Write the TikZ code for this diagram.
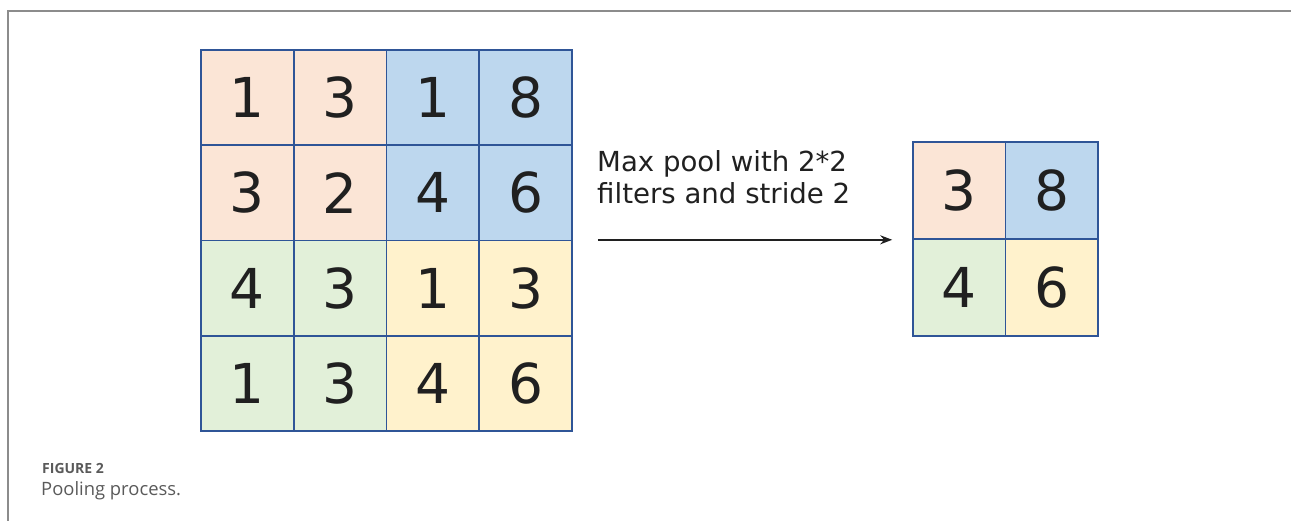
\documentclass[tikz,border=0pt]{standalone}
\usepackage{fontspec}
\setmainfont{DejaVu Sans}
\newfontfamily\capfont{Open Sans}
\usetikzlibrary{arrows.meta}

\definecolor{peach}{HTML}{FBE5D6}
\definecolor{skyblue}{HTML}{BDD7EE}
\definecolor{palegreen}{HTML}{E2F0D9}
\definecolor{paleyellow}{HTML}{FFF2CC}
\definecolor{gridblue}{HTML}{2F5597}
\definecolor{framegray}{HTML}{8C8C8C}
\definecolor{capgray}{HTML}{5A5A5A}
\definecolor{inkgray}{HTML}{202020}

\tikzset{
  cell/.style={draw=gridblue, line width=1.6pt, inner sep=0pt,
    minimum width=92.75pt, minimum height=95.25pt, text=inkgray,
    font=\fontsize{55}{57}\selectfont},
  smallcell/.style={cell, minimum width=92.5pt, minimum height=97pt}
}

\begin{document}
\begin{tikzpicture}[x=1pt, y=-1pt]

  \useasboundingbox (0,0) rectangle (1291,521);

  % Frame
  \draw[framegray, line width=1.6pt] (8,521) -- (8,11) -- (1291,11);

  % Input map, top left block
  \node[cell, fill=peach] (a11) at (247.4,97.6) {1};
  \node[cell, fill=peach] (a12) at (340.1,97.6) {3};
  \node[cell, fill=peach] (a21) at (247.4,192.9) {3};
  \node[cell, fill=peach] (a22) at (340.1,192.9) {2};

  % Input map, top right block
  \node[cell, fill=skyblue] (a13) at (432.9,97.6) {1};
  \node[cell, fill=skyblue] (a14) at (525.6,97.6) {8};
  \node[cell, fill=skyblue] (a23) at (432.9,192.9) {4};
  \node[cell, fill=skyblue] (a24) at (525.6,192.9) {6};

  % Input map, bottom left block
  \node[cell, fill=palegreen] (a31) at (247.4,288.1) {4};
  \node[cell, fill=palegreen] (a32) at (340.1,288.1) {3};
  \node[cell, fill=palegreen] (a41) at (247.4,383.4) {1};
  \node[cell, fill=palegreen] (a42) at (340.1,383.4) {3};

  % Input map, bottom right block
  \node[cell, fill=paleyellow] (a33) at (432.9,288.1) {1};
  \node[cell, fill=paleyellow] (a34) at (525.6,288.1) {3};
  \node[cell, fill=paleyellow] (a43) at (432.9,383.4) {4};
  \node[cell, fill=paleyellow] (a44) at (525.6,383.4) {6};

  % Pooled map
  \node[smallcell, fill=peach] (b11) at (959.3,190.5) {3};
  \node[smallcell, fill=skyblue] (b12) at (1051.8,190.5) {8};
  \node[smallcell, fill=palegreen] (b21) at (959.3,287.5) {4};
  \node[smallcell, fill=paleyellow] (b22) at (1051.8,287.5) {6};

  % Pooling arrow
  \draw[-{Stealth[length=12pt, width=9pt]}, line width=1.8pt, inkgray]
    ([xshift=25pt]a24.south east |- b11.south west)
    -- ([xshift=-20pt]b11.south west);
  \node[anchor=north west, inner sep=0pt, align=left, text=inkgray,
    font=\fontsize{27.6}{32}\selectfont] (rule) at (597,150)
    {Max pool with 2*2\\filters and stride 2};

  % Caption
  \node[anchor=base west, inner sep=0pt, text=capgray,
    font=\capfont\bfseries\fontsize{14}{15}\selectfont] (fig) at (42,473)
    {FIGURE 2};
  \node[anchor=base west, inner sep=0pt, text=capgray,
    font=\capfont\fontsize{18.4}{19}\selectfont] (cap) at (41,495)
    {Pooling process.};

\end{tikzpicture}
\end{document}
